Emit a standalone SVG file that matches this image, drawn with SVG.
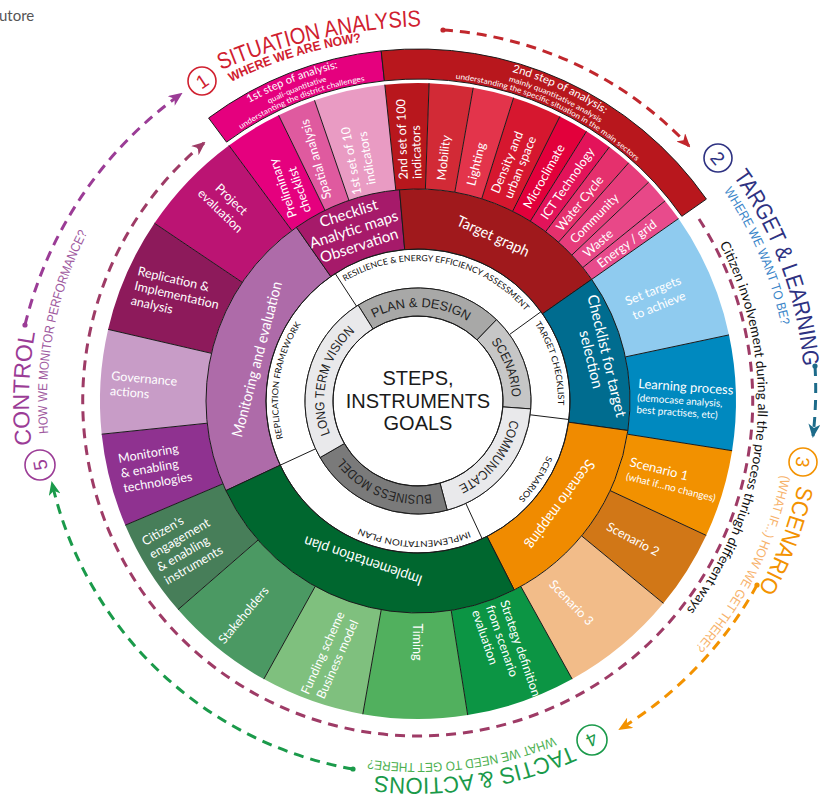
<svg xmlns="http://www.w3.org/2000/svg" width="825" height="795" viewBox="0 0 825 795">
<style>
.cell{fill:#fff;font-family:Lato,'Open Sans',sans-serif;font-size:12.5px}
.mid{font-size:15px}
.small{font-size:10px}
.ring{font-family:Lato,'Open Sans',sans-serif;font-size:8.5px;fill:#111}
.gray{font-family:'Liberation Sans',Arial,sans-serif;font-size:13px;fill:#222}
.band1{font-family:Lato,'Open Sans',sans-serif;font-size:11px;fill:#fff}
.band2{font-family:Lato,'Open Sans',sans-serif;font-size:7.5px;fill:#fff}
.title{font-family:'Liberation Sans',Arial,sans-serif;font-size:23px}
.sub{font-family:'Liberation Sans',Arial,sans-serif;font-size:13px}
.num{font-family:'Liberation Sans',Arial,sans-serif;font-size:19px;text-anchor:middle}
.badge{fill:#fff;stroke-width:1.6}
.ln{fill:none;stroke:#1a1a1a;stroke-width:1}
.seg{stroke:#1a1a1a;stroke-width:1}
.dash{fill:none;stroke-width:3;stroke-dasharray:10 7}
.c{text-anchor:middle}
</style>
<defs>
<marker id="aRed" markerUnits="userSpaceOnUse" markerWidth="14" markerHeight="12" viewBox="0 0 14 12" refX="12" refY="6" orient="auto"><path d="M0,0 L14,6 L0,12 L4,6 Z" fill="#c1272d"/></marker>
<marker id="aTeal" markerUnits="userSpaceOnUse" markerWidth="14" markerHeight="12" viewBox="0 0 14 12" refX="12" refY="6" orient="auto"><path d="M0,0 L14,6 L0,12 L4,6 Z" fill="#1d6b8a"/></marker>
<marker id="aOrange" markerUnits="userSpaceOnUse" markerWidth="14" markerHeight="12" viewBox="0 0 14 12" refX="12" refY="6" orient="auto"><path d="M0,0 L14,6 L0,12 L4,6 Z" fill="#f39200"/></marker>
<marker id="aGreen" markerUnits="userSpaceOnUse" markerWidth="14" markerHeight="12" viewBox="0 0 14 12" refX="12" refY="6" orient="auto"><path d="M0,0 L14,6 L0,12 L4,6 Z" fill="#1a9a4a"/></marker>
<marker id="aPurple" markerUnits="userSpaceOnUse" markerWidth="14" markerHeight="12" viewBox="0 0 14 12" refX="12" refY="6" orient="auto"><path d="M0,0 L14,6 L0,12 L4,6 Z" fill="#9b3c96"/></marker>
<marker id="aPlum" markerUnits="userSpaceOnUse" markerWidth="14" markerHeight="12" viewBox="0 0 14 12" refX="12" refY="6" orient="auto"><path d="M0,0 L14,6 L0,12 L4,6 Z" fill="#9e3b66"/></marker>
<path id="gp1" d="M 373.9,318.0 A 94 94 0 0 1 467.8,321.3"/>
<path id="gp2" d="M 491.0,341.8 A 94 94 0 0 1 511.9,397.7"/>
<path id="gp3" d="M 510.1,419.7 A 94 94 0 0 1 457.7,486.2"/>
<path id="gp4" d="M 431.1,494.1 A 94 94 0 0 1 342.9,457.6"/>
<path id="gp5" d="M 330.0,433.9 A 94 94 0 0 1 355.7,330.6"/>
<path id="wp1" d="M 344.8,281.6 A 140 140 0 0 1 525.7,311.6"/>
<path id="wp2" d="M 534.7,323.7 A 140 140 0 0 1 557.9,407.1"/>
<path id="wp3" d="M 546.9,455.7 A 140 140 0 0 1 517.9,499.1"/>
<path id="wp4" d="M 469.3,531.3 A 140 140 0 0 1 358.8,527.9"/>
<path id="wp5" d="M 283.1,438.4 A 140 140 0 0 1 301.3,323.7"/>
<path id="b1a" d="M 249.1,103.1 A 342.5 342.5 0 0 1 338.3,67.9"/>
<path id="b1b" d="M 269.1,103.7 A 332.5 332.5 0 0 1 326.9,81.2"/>
<path id="b1c" d="M 240.8,129.2 A 324.5 324.5 0 0 1 365.0,80.8"/>
<path id="b2a" d="M 512.1,71.7 A 342.5 342.5 0 0 1 604.8,113.9"/>
<path id="b2b" d="M 508.5,81.1 A 332.5 332.5 0 0 1 600.1,122.8"/>
<path id="b2c" d="M 455.6,78.7 A 324.5 324.5 0 0 1 636.6,161.2"/>
<path id="t1" d="M 221,70 A 560 560 0 0 1 430,26"/>
<path id="s1" d="M 231,82 A 420 420 0 0 1 369,41"/>
<path id="t2" d="M 733.1,176.3 A 387 387 0 0 1 803.8,370.6"/>
<path id="s2" d="M 723.7,190.9 A 371 371 0 0 1 781.5,327.0"/>
<path id="t3" d="M 797.8,485.2 A 389 389 0 0 1 753.2,598.4"/>
<path id="s3" d="M 781.5,475.0 A 371 371 0 0 1 693.7,649.2"/>
<path id="t4" d="M 571.3,745.4 A 377 377 0 0 1 372.0,775.2"/>
<path id="s4" d="M 553.6,736.6 A 362 362 0 0 1 367.6,759.5"/>
<path id="t5" d="M 31.5,445.0 A 389 389 0 0 1 35.5,330.1"/>
<path id="s5" d="M 48.4,433.4 A 371 371 0 0 1 88.9,229.7"/>
<path id="cit" d="M 719.6,244.0 A 340 340 0 0 1 684.1,612.7"/>
</defs>
<rect width="825" height="795" fill="#fff"/>
<text x="-1" y="21" font-family="Lato,'Open Sans',sans-serif" font-size="15" fill="#555">utore</text>

<!-- analysis bands -->
<g id="band-1st-step">
<path class="seg" d="M 226.5,142.1 L 208.6,118.0 A 352 352 0 0 1 381.2,50.9 L 384.4,80.8 A 322 322 0 0 0 226.5,142.1 Z" fill="#e5007e"/>
<text class="band1"><textPath href="#b1a" textLength="96" lengthAdjust="spacingAndGlyphs">1st step of analysis:</textPath></text>
<text class="band2"><textPath href="#b1b" textLength="62" lengthAdjust="spacingAndGlyphs">quali-quantitative</textPath></text>
<text class="band2"><textPath href="#b1c" textLength="134" lengthAdjust="spacingAndGlyphs">understanting the district challenges</textPath></text>
</g>
<g id="band-2nd-step">
<path class="seg" d="M 384.4,80.8 L 381.2,50.9 A 352 352 0 0 1 706.4,199.1 L 681.8,216.3 A 322 322 0 0 0 384.4,80.8 Z" fill="#b8171d"/>
<text class="band1"><textPath href="#b2a" textLength="102" lengthAdjust="spacingAndGlyphs">2nd step of analysis:</textPath></text>
<text class="band2"><textPath href="#b2b" textLength="101" lengthAdjust="spacingAndGlyphs">mainly quantitative analysis</textPath></text>
<text class="band2"><textPath href="#b2c" textLength="202" lengthAdjust="spacingAndGlyphs">understanding the specific situation in the main sectors</textPath></text>
</g>

<!-- outer ring -->
<g id="outer-ring">
<g id="replication"><path d="M 211.4,353.3 L 108.1,329.4 A 318 318 0 0 1 154.4,223.2 L 242.3,282.4 A 212 212 0 0 0 211.4,353.3 Z" fill="#8d1a5b"/>
<text class="cell" transform="translate(137,275) rotate(13)"><tspan x="0" y="0">Replication &amp;</tspan><tspan x="0" y="15">Implementation</tspan><tspan x="0" y="30">analysis</tspan></text></g>
<g id="project-evaluation"><path d="M 242.3,282.4 L 154.4,223.2 A 318 318 0 0 1 228.9,145.4 L 291.9,230.6 A 212 212 0 0 0 242.3,282.4 Z" fill="#bb1473"/>
<text class="cell c" transform="translate(226,205) rotate(44)"><tspan x="0" y="-3.6">Project</tspan><tspan x="0" y="12.4">evaluation</tspan></text></g>
<g id="preliminary-checklist"><path d="M 291.9,230.6 L 228.9,145.4 A 318 318 0 0 1 278.6,115.2 L 325.1,210.5 A 212 212 0 0 0 291.9,230.6 Z" fill="#e5007e"/>
<text class="cell" transform="translate(300,215) rotate(-109)"><tspan x="0" y="-3.1">Preliminary</tspan><tspan x="0" y="11.9">checklist</tspan></text></g>
<g id="spatial-analysis"><path d="M 325.1,210.5 L 278.6,115.2 A 318 318 0 0 1 314.5,100.3 L 349.0,200.6 A 212 212 0 0 0 325.1,210.5 Z" fill="#df5a9f"/>
<text class="cell" transform="translate(327,199) rotate(-106)" y="4.4">Spatial analysis</text></g>
<g id="first-set"><path d="M 349.0,200.6 L 314.5,100.3 A 318 318 0 0 1 384.8,84.7 L 395.8,190.2 A 212 212 0 0 0 349.0,200.6 Z" fill="#e99bc3"/>
<text class="cell c" transform="translate(359,159.5) rotate(-100)"><tspan x="0" y="-3.6">1st set of 10</tspan><tspan x="0" y="12.4">indicators</tspan></text></g>
<g id="second-set"><path d="M 395.8,190.2 L 384.8,84.7 A 318 318 0 0 1 429.1,83.2 L 425.4,189.1 A 212 212 0 0 0 395.8,190.2 Z" fill="#b8171d"/>
<text class="cell" transform="translate(410.3,179.1) rotate(-92)"><tspan x="0" y="-2.6">2nd set of 100</tspan><tspan x="0" y="11.4">indicators</tspan></text></g>
<g id="mobility"><path d="M 425.4,189.1 L 429.1,83.2 A 318 318 0 0 1 473.2,87.8 L 454.8,192.2 A 212 212 0 0 0 425.4,189.1 Z" fill="#d22a36"/>
<text class="cell" transform="translate(441.2,180.2) rotate(-84)" y="4.4">Mobility</text></g>
<g id="lighting"><path d="M 454.8,192.2 L 473.2,87.8 A 318 318 0 0 1 513.6,97.7 L 481.7,198.8 A 212 212 0 0 0 454.8,192.2 Z" fill="#e3344b"/>
<text class="cell" transform="translate(470.8,185.4) rotate(-76.25)" y="4.4">Lighting</text></g>
<g id="density"><path d="M 481.7,198.8 L 513.6,97.7 A 318 318 0 0 1 559.9,116.4 L 512.6,211.3 A 212 212 0 0 0 481.7,198.8 Z" fill="#d6172f"/>
<text class="cell" transform="translate(501.2,195.2) rotate(-68)"><tspan x="0" y="-2.6">Density and</tspan><tspan x="0" y="11.4">urban space</tspan></text></g>
<g id="microclimate"><path d="M 512.6,211.3 L 559.9,116.4 A 318 318 0 0 1 586.5,131.3 L 530.3,221.2 A 212 212 0 0 0 512.6,211.3 Z" fill="#e2003b"/>
<text class="cell" transform="translate(526.5,207.3) rotate(-60.75)" y="4.4">Microclimate</text></g>
<g id="ict"><path d="M 530.3,221.2 L 586.5,131.3 A 318 318 0 0 1 609.4,147.0 L 545.6,231.7 A 212 212 0 0 0 530.3,221.2 Z" fill="#e3135a"/>
<text class="cell" transform="translate(543.7,218.0) rotate(-55.5)" y="4.4">ICT Technology</text></g>
<g id="water"><path d="M 545.6,231.7 L 609.4,147.0 A 318 318 0 0 1 628.7,162.8 L 558.5,242.2 A 212 212 0 0 0 545.6,231.7 Z" fill="#e5306d"/>
<text class="cell" transform="translate(558.5,229.1) rotate(-50.75)" y="4.4">Water Cycle</text></g>
<g id="community"><path d="M 558.5,242.2 L 628.7,162.8 A 318 318 0 0 1 648.7,182.1 L 571.8,255.1 A 212 212 0 0 0 558.5,242.2 Z" fill="#e63c7b"/>
<text class="cell" transform="translate(572.2,241.3) rotate(-46)" y="4.4">Community</text></g>
<g id="waste"><path d="M 571.8,255.1 L 648.7,182.1 A 318 318 0 0 1 665.1,200.9 L 582.7,267.6 A 212 212 0 0 0 571.8,255.1 Z" fill="#e84888"/>
<text class="cell" transform="translate(584.9,254.6) rotate(-41.25)" y="4.4">Waste</text></g>
<g id="energy"><path d="M 582.7,267.6 L 665.1,200.9 A 318 318 0 0 1 678.5,218.6 L 591.7,279.4 A 212 212 0 0 0 582.7,267.6 Z" fill="#e84b8c"/>
<text class="cell" transform="translate(598.5,265.0) rotate(-37)" y="4.4">Energy / grid</text></g>
<g id="set-targets"><path d="M 591.7,279.4 L 678.5,218.6 A 318 318 0 0 1 729.0,334.9 L 625.4,356.9 A 212 212 0 0 0 591.7,279.4 Z" fill="#8fcbef"/>
<text class="cell c" transform="translate(656,298) rotate(-22)"><tspan x="0" y="-3.6">Set targets</tspan><tspan x="0" y="12.4">to achieve</tspan></text></g>
<g id="learning"><path d="M 625.4,356.9 L 729.0,334.9 A 318 318 0 0 1 732.1,450.7 L 627.4,434.2 A 212 212 0 0 0 625.4,356.9 Z" fill="#0089bf"/>
<text class="cell" transform="translate(638,388) rotate(4)"><tspan x="0" y="0" font-size="13">Learning process</tspan><tspan class="small" x="0" y="13">(democase analysis,</tspan><tspan class="small" x="0" y="25">best practises, etc)</tspan></text></g>
<g id="scenario-1"><path d="M 627.4,434.2 L 732.1,450.7 A 318 318 0 0 1 706.2,535.4 L 610.1,490.6 A 212 212 0 0 0 627.4,434.2 Z" fill="#f29100"/>
<text class="cell" transform="translate(629,466) rotate(14)"><tspan x="0" y="0" font-size="13">Scenario 1</tspan><tspan class="small" x="0" y="14">(what if...no changes)</tspan></text></g>
<g id="scenario-2"><path d="M 610.1,490.6 L 706.2,535.4 A 318 318 0 0 1 663.4,603.3 L 581.6,535.9 A 212 212 0 0 0 610.1,490.6 Z" fill="#d17717"/>
<text class="cell c" transform="translate(633,539) rotate(28)" y="4.4">Scenario 2</text></g>
<g id="scenario-3"><path d="M 581.6,535.9 L 663.4,603.3 A 318 318 0 0 1 572.2,679.1 L 520.8,586.4 A 212 212 0 0 0 581.6,535.9 Z" fill="#f2bc89"/>
<text class="cell c" transform="translate(571.5,602.5) rotate(46)" y="4.4">Scenario 3</text></g>
<g id="strategy"><path d="M 520.8,586.4 L 572.2,679.1 A 318 318 0 0 1 467.7,715.1 L 451.2,610.4 A 212 212 0 0 0 520.8,586.4 Z" fill="#0c9544"/>
<text class="cell" transform="translate(500,602) rotate(71)"><tspan x="0" y="0">Strategy definition</tspan><tspan x="0" y="15">from scenario</tspan><tspan x="0" y="30">evaluation</tspan></text></g>
<g id="timing"><path d="M 451.2,610.4 L 467.7,715.1 A 318 318 0 0 1 362.8,714.2 L 381.2,609.8 A 212 212 0 0 0 451.2,610.4 Z" fill="#51b05e"/>
<text class="cell c" transform="translate(417,642) rotate(90)" y="4.4">Timing</text></g>
<g id="funding"><path d="M 381.2,609.8 L 362.8,714.2 A 318 318 0 0 1 263.8,679.1 L 315.2,586.4 A 212 212 0 0 0 381.2,609.8 Z" fill="#7fc07e"/>
<text class="cell c" transform="translate(330,656) rotate(-66)"><tspan x="0" y="-3.6">Funding scheme</tspan><tspan x="0" y="12.4">Business model</tspan></text></g>
<g id="stakeholders"><path d="M 315.2,586.4 L 263.8,679.1 A 318 318 0 0 1 178.0,609.6 L 258.0,540.1 A 212 212 0 0 0 315.2,586.4 Z" fill="#4b9963"/>
<text class="cell c" transform="translate(243.5,615) rotate(-50)" y="4.4">Stakeholders</text></g>
<g id="citizens"><path d="M 258.0,540.1 L 178.0,609.6 A 318 318 0 0 1 125.3,525.2 L 222.9,483.8 A 212 212 0 0 0 258.0,540.1 Z" fill="#477e59"/>
<text class="cell" transform="translate(145,546) rotate(-30)"><tspan x="0" y="0">Citizen’s</tspan><tspan x="0" y="15">engagement</tspan><tspan x="0" y="30">&amp; enabling</tspan><tspan x="0" y="45">instruments</tspan></text></g>
<g id="monitoring-tech"><path d="M 222.9,483.8 L 125.3,525.2 A 318 318 0 0 1 101.7,434.2 L 207.2,423.2 A 212 212 0 0 0 222.9,483.8 Z" fill="#8f3290"/>
<text class="cell" transform="translate(119,463) rotate(-10)"><tspan x="0" y="0">Monitoring</tspan><tspan x="0" y="15">&amp; enabling</tspan><tspan x="0" y="30">technologies</tspan></text></g>
<g id="governance"><path d="M 207.2,423.2 L 101.7,434.2 A 318 318 0 0 1 108.1,329.4 L 211.4,353.3 A 212 212 0 0 0 207.2,423.2 Z" fill="#c89cc7"/>
<text class="cell" transform="translate(111,380) rotate(5)"><tspan x="0" y="0">Governance</tspan><tspan x="0" y="15">actions</tspan></text></g>
<path class="ln" d="M211.4,353.3L108.1,329.4 M242.3,282.4L154.4,223.2 M291.9,230.6L228.9,145.4 M325.1,210.5L278.6,115.2 M349.0,200.6L314.5,100.3 M395.8,190.2L384.8,84.7 M425.4,189.1L429.1,83.2 M454.8,192.2L473.2,87.8 M481.7,198.8L513.6,97.7 M512.6,211.3L559.9,116.4 M530.3,221.2L586.5,131.3 M545.6,231.7L609.4,147.0 M558.5,242.2L628.7,162.8 M571.8,255.1L648.7,182.1 M582.7,267.6L665.1,200.9 M591.7,279.4L678.5,218.6 M625.4,356.9L729.0,334.9 M627.4,434.2L732.1,450.7 M610.1,490.6L706.2,535.4 M581.6,535.9L663.4,603.3 M520.8,586.4L572.2,679.1 M451.2,610.4L467.7,715.1 M381.2,609.8L362.8,714.2 M315.2,586.4L263.8,679.1 M258.0,540.1L178.0,609.6 M222.9,483.8L125.3,525.2 M207.2,423.2L101.7,434.2"/>
</g>

<!-- middle ring -->
<g id="middle-ring">
<g id="monitoring-evaluation"><path class="seg" d="M 280.2,465.2 L 225.9,490.6 A 212 212 0 0 1 296.4,227.3 L 330.8,276.5 A 152 152 0 0 0 280.2,465.2 Z" fill="#ae6ba9"/>
<text class="cell mid c" transform="translate(262,360.5) rotate(-75.4)" textLength="160" lengthAdjust="spacingAndGlyphs">Monitoring and evaluation</text></g>
<g id="checklist-maps"><path class="seg" d="M 330.8,276.5 L 296.4,227.3 A 212 212 0 0 1 399.5,189.8 L 404.7,249.6 A 152 152 0 0 0 330.8,276.5 Z" fill="#a61a6a"/>
<text class="cell mid c" transform="translate(353.9,229.6) rotate(-18)"><tspan x="0" y="-12">Checklist</tspan><tspan x="0" y="5">Analytic maps</tspan><tspan x="0" y="22">Observation</tspan></text></g>
<g id="target-graph"><path class="seg" d="M 404.7,249.6 L 399.5,189.8 A 212 212 0 0 1 591.7,279.4 L 542.5,313.8 A 152 152 0 0 0 404.7,249.6 Z" fill="#a0191c"/>
<text class="cell mid c" transform="translate(491,240.8) rotate(24.5)" textLength="78" lengthAdjust="spacingAndGlyphs">Target graph</text></g>
<g id="checklist-target"><path class="seg" d="M 542.5,313.8 L 591.7,279.4 A 212 212 0 0 1 627.9,430.5 L 568.5,422.2 A 152 152 0 0 0 542.5,313.8 Z" fill="#006c8f"/>
<text class="cell mid c" transform="translate(601.8,356.9) rotate(76.5)"><tspan x="0" y="0">Checklist for target</tspan><tspan x="0" y="16">selection</tspan></text></g>
<g id="scenario-mapping"><path class="seg" d="M 568.5,422.2 L 627.9,430.5 A 212 212 0 0 1 514.2,589.9 L 487.0,536.4 A 152 152 0 0 0 568.5,422.2 Z" fill="#f08b00"/>
<text class="cell mid c" transform="translate(556.3,501.5) rotate(126)" textLength="106" lengthAdjust="spacingAndGlyphs">Scenario mapping</text></g>
<g id="implementation-plan"><path class="seg" d="M 487.0,536.4 L 514.2,589.9 A 212 212 0 0 1 225.9,490.6 L 280.2,465.2 A 152 152 0 0 0 487.0,536.4 Z" fill="#00672f"/>
<text class="cell mid c" transform="translate(364.6,556.1) rotate(199)" textLength="124" lengthAdjust="spacingAndGlyphs">Implementation plan</text></g>
</g>

<!-- white label ring -->
<g id="label-ring">
<circle cx="418" cy="401" r="152" fill="#fff" class="ln"/>
<path class="ln" d="M335.2,273.5L356.5,306.2 M541.0,311.7L509.4,334.6 M568.9,419.5L530.2,414.8 M482.2,538.8L465.8,503.4 M280.2,465.2L315.6,448.8"/>
<circle cx="418" cy="401" r="113" class="ln"/>
<text class="ring"><textPath href="#wp1" textLength="199" lengthAdjust="spacingAndGlyphs">RESILIENCE &amp; ENERGY EFFICIENCY ASSESSMENT</textPath></text>
<text class="ring"><textPath href="#wp2" textLength="86" lengthAdjust="spacingAndGlyphs">TARGET CHECKLIST</textPath></text>
<text class="ring"><textPath href="#wp3" textLength="52" lengthAdjust="spacingAndGlyphs">SCENARIOS</textPath></text>
<text class="ring"><textPath href="#wp4" textLength="113" lengthAdjust="spacingAndGlyphs">IMPLEMENTATION PLAN</textPath></text>
<text class="ring"><textPath href="#wp5" textLength="119" lengthAdjust="spacingAndGlyphs">REPLICATION FRAMEWORK</textPath></text>
</g>

<!-- gray ring -->
<g id="gray-ring">
<g id="plan-design"><path class="seg" d="M 373.0,328.9 L 358.1,305.2 A 113 113 0 0 1 496.5,319.7 L 477.0,339.9 A 85 85 0 0 0 373.0,328.9 Z" fill="#a8a8a7"/>
<text class="gray"><textPath href="#gp1" textLength="98" lengthAdjust="spacingAndGlyphs">PLAN &amp; DESIGN</textPath></text></g>
<g id="scenario-g"><path class="seg" d="M 477.0,339.9 L 496.5,319.7 A 113 113 0 0 1 530.7,408.9 L 502.8,406.9 A 85 85 0 0 0 477.0,339.9 Z" fill="#c6c6c6"/>
<text class="gray"><textPath href="#gp2" textLength="60" lengthAdjust="spacingAndGlyphs">SCENARIO</textPath></text></g>
<g id="communicate"><path class="seg" d="M 502.8,406.9 L 530.7,408.9 A 113 113 0 0 1 447.2,510.1 L 440.0,483.1 A 85 85 0 0 0 502.8,406.9 Z" fill="#e9e9eb"/>
<text class="gray"><textPath href="#gp3" textLength="87" lengthAdjust="spacingAndGlyphs">COMMUNICATE</textPath></text></g>
<g id="business-model"><path class="seg" d="M 440.0,483.1 L 447.2,510.1 A 113 113 0 0 1 320.1,457.5 L 344.4,443.5 A 85 85 0 0 0 440.0,483.1 Z" fill="#7a7a7a"/>
<text class="gray"><textPath href="#gp4" textLength="100" lengthAdjust="spacingAndGlyphs">BUSINESS MODEL</textPath></text></g>
<g id="long-term-vision"><path class="seg" d="M 344.4,443.5 L 320.1,457.5 A 113 113 0 0 1 358.1,305.2 L 373.0,328.9 A 85 85 0 0 0 344.4,443.5 Z" fill="#e9e9eb"/>
<text class="gray"><textPath href="#gp5" textLength="112" lengthAdjust="spacingAndGlyphs">LONG TERM VISION</textPath></text></g>
</g>

<g id="center">
<circle cx="418" cy="401" r="85" fill="#fff" class="ln"/>
<text font-family="'Liberation Sans',Arial,sans-serif" font-size="20" fill="#1a1a1a" text-anchor="middle"><tspan x="418" y="385">STEPS,</tspan><tspan x="418" y="407.5">INSTRUMENTS</tspan><tspan x="418" y="430">GOALS</tspan></text>
</g>

<!-- connectors -->
<g id="connectors">
<path class="dash" stroke="#9e3b66" d="M 699,219 A 335 335 0 1 1 204,143" marker-end="url(#aPlum)"/>
<path class="dash" stroke="#c1272d" d="M 443,30 A 372 372 0 0 1 689,146" marker-end="url(#aRed)"/>
<circle cx="443" cy="30" r="2.6" fill="#c1272d"/>
<path class="dash" stroke="#1d6b8a" d="M 815,366 A 398 398 0 0 1 813,436" marker-end="url(#aTeal)"/>
<circle cx="815" cy="366" r="2.6" fill="#1d6b8a"/>
<path class="dash" stroke="#f39200" d="M 757,585 A 385 385 0 0 1 620,729" marker-end="url(#aOrange)"/>
<circle cx="757" cy="585" r="2.6" fill="#f39200"/>
<path class="dash" stroke="#1a9a4a" d="M 353,769 A 375 375 0 0 1 52,483" marker-end="url(#aGreen)"/>
<circle cx="353" cy="769" r="2.6" fill="#1a9a4a"/>
<path class="dash" stroke="#9b3c96" d="M 25,325 A 400 400 0 0 1 181,94" marker-end="url(#aPurple)"/>
<circle cx="25" cy="325" r="2.6" fill="#9b3c96"/>
</g>
<g id="citizen-involvement">
<text font-family="Lato,'Open Sans',sans-serif" font-size="13.5" fill="#111"><textPath href="#cit" textLength="388" lengthAdjust="spacingAndGlyphs">Citizen involvement during all the process thriugh different ways</textPath></text>
</g>

<!-- step titles -->
<g id="step1">
<circle class="badge" cx="202" cy="81" r="14" stroke="#d0202f"/>
<text class="num" fill="#d0202f" transform="translate(202,81) rotate(-34)" y="7">1</text>
<text class="title" fill="#d0202f"><textPath href="#t1" textLength="206" lengthAdjust="spacingAndGlyphs">SITUATION ANALYSIS</textPath></text>
<text class="sub" fill="#d0202f" font-weight="bold"><textPath href="#s1" textLength="137" lengthAdjust="spacingAndGlyphs">WHERE WE ARE NOW?</textPath></text>
</g>
<g id="step2">
<circle class="badge" cx="718" cy="158" r="14" stroke="#2e3282"/>
<text class="num" fill="#2e3282" transform="translate(718,158) rotate(51)" y="7">2</text>
<text class="title" fill="#2e3282"><textPath href="#t2" textLength="205" lengthAdjust="spacingAndGlyphs">TARGET &amp; LEARNING</textPath></text>
<text class="sub" fill="#3b86c9"><textPath href="#s2" textLength="147" lengthAdjust="spacingAndGlyphs">WHERE WE WANT TO BE?</textPath></text>
</g>
<g id="step3">
<circle class="badge" cx="803" cy="462" r="14" stroke="#f39200"/>
<text class="num" fill="#f39200" transform="translate(803,462) rotate(99)" y="7">3</text>
<text class="title" fill="#f39200"><textPath href="#t3" textLength="112" lengthAdjust="spacingAndGlyphs">SCENARIO</textPath></text>
<text class="sub" fill="#f7b26b"><textPath href="#s3" textLength="195" lengthAdjust="spacingAndGlyphs">(WHAT IF...) HOW WE GET THERE?</textPath></text>
</g>
<g id="step4">
<circle class="badge" cx="592" cy="740" r="15" stroke="#1a9a4a"/>
<text class="num" fill="#1a9a4a" transform="translate(592,740) rotate(153)" y="7">4</text>
<text class="title" fill="#1a9a4a"><textPath href="#t4" textLength="201" lengthAdjust="spacingAndGlyphs">TACTIS &amp; ACTIONS</textPath></text>
<text class="sub" fill="#4cb050"><textPath href="#s4" textLength="189" lengthAdjust="spacingAndGlyphs">WHAT WE NEED TO GET THERE?</textPath></text>
</g>
<g id="step5">
<circle class="badge" cx="40" cy="465" r="15" stroke="#9b3c96"/>
<text class="num" fill="#9b3c96" transform="translate(40,465) rotate(-100)" y="7">5</text>
<text class="title" fill="#9b3c96"><textPath href="#t5" textLength="113" lengthAdjust="spacingAndGlyphs">CONTROL</textPath></text>
<text class="sub" fill="#a05aa0"><textPath href="#s5" textLength="207" lengthAdjust="spacingAndGlyphs">HOW WE MONITOR PERFORMANCE?</textPath></text>
</g>
</svg>
